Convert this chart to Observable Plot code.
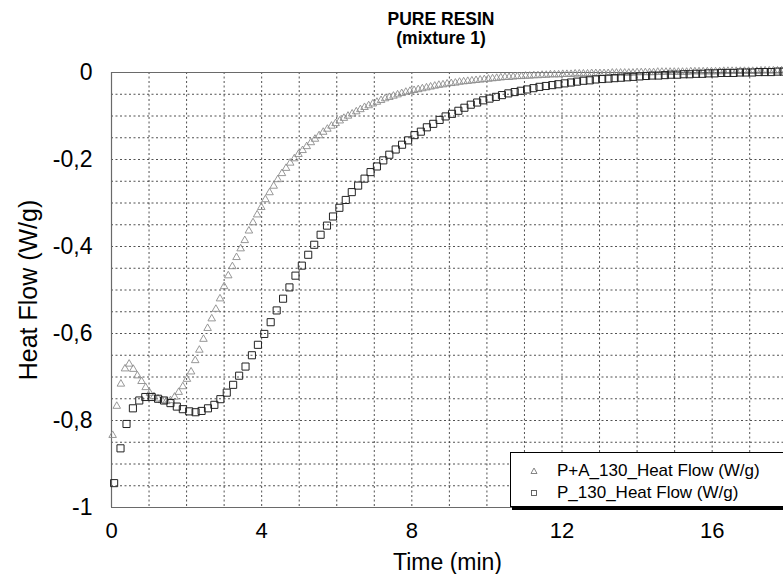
<!DOCTYPE html>
<html>
<head>
<meta charset="utf-8">
<script src="https://cdn.jsdelivr.net/npm/d3@7"></script>
<script src="https://cdn.jsdelivr.net/npm/@observablehq/plot@0.6"></script>
<style>
  body { margin: 0; background: #fff; overflow: hidden; font-family: "Liberation Sans", Arial, sans-serif; }
  #wrap { position: relative; width: 783px; height: 574px; overflow: hidden; background: #fff; }
  #chart { position: absolute; left: 0; top: 0; }
  #title { position: absolute; left: 341px; top: 10px; width: 200px; text-align: center; font-weight: bold; font-size: 17.5px; line-height: 19px; color: #000; z-index: 2; }
  #legend { position: absolute; left: 510px; top: 452px; width: 300px; height: 53px; border: 1px solid #000; background: #fff; box-shadow: 2px 3px 0 #000; z-index: 2; }
  .row { position: absolute; left: 0; height: 22px; width: 300px; font-size: 17px; color: #000; }
  .row svg { position: absolute; left: 17px; top: 5px; }
  .row span { position: absolute; left: 46px; top: 1px; white-space: nowrap; }
</style>
</head>
<body>
<div id="wrap">
  <div id="chart"></div>
  <div id="title">PURE RESIN<br>(mixture 1)</div>
  <div id="legend">
    <div class="row" style="top:7px"><svg width="12" height="12"><path d="M6,3 L9,8.5 L3,8.5 Z" fill="none" stroke="#777" stroke-width="0.9"/></svg><span id="lg1"></span></div>
    <div class="row" style="top:29px"><svg width="12" height="12"><rect x="3.5" y="3.5" width="5" height="5" fill="none" stroke="#555" stroke-width="0.9"/></svg><span id="lg2"></span></div>
  </div>
</div>
<script>
// ---- Data ----
const seriesNames = ["P+A_130_Heat Flow (W/g)", "P_130_Heat Flow (W/g)"];
const chartTitle = ["PURE RESIN", "(mixture 1)"];
const xLabel = "Time (min)";
const yLabel = "Heat Flow (W/g)";
const xTicks = [0, 4, 8, 12, 16];
const yTicks = [-1, -0.8, -0.6, -0.4, -0.2, 0];

// P+A_130 (triangles): time (min)
const tTri = [0.03,0.14,0.25,0.36,0.47,0.58,0.69,0.80,0.91,1.02,1.13,1.24,1.35,1.46,1.57,1.68,1.79,1.90,2.01,2.12,
2.23,2.34,2.45,2.56,2.67,2.78,2.89,3.00,3.11,3.22,3.33,3.44,3.55,3.66,3.77,3.88,3.99,4.10,4.21,4.32,
4.43,4.54,4.65,4.76,4.87,4.98,5.09,5.20,5.31,5.42,5.53,5.64,5.75,5.86,5.97,6.08,6.19,6.30,6.41,6.52,
6.63,6.74,6.85,6.96,7.07,7.18,7.29,7.40,7.51,7.62,7.73,7.84,7.95,8.06,8.17,8.28,8.39,8.50,8.61,8.72,
8.83,8.94,9.05,9.16,9.27,9.38,9.49,9.60,9.71,9.82,9.93,10.04,10.15,10.26,10.37,10.48,10.59,10.70,10.81,10.92,
11.03,11.14,11.25,11.36,11.47,11.58,11.69,11.80,11.91,12.02,12.13,12.24,12.35,12.46,12.57,12.68,12.79,12.90,13.01,13.12,
13.23,13.34,13.45,13.56,13.67,13.78,13.89,14.00,14.11,14.22,14.33,14.44,14.55,14.66,14.77,14.88,14.99,15.10,15.21,15.32,
15.43,15.54,15.65,15.76,15.87,15.98,16.09,16.20,16.31,16.42,16.53,16.64,16.75,16.86,16.97,17.08,17.19,17.30,17.41,17.52,
17.63,17.74,17.85,17.96];
// P+A_130 (triangles): heat flow (W/g)
const hfTri = [-0.834,-0.767,-0.716,-0.681,-0.670,-0.682,-0.697,-0.710,-0.724,-0.737,-0.745,-0.750,-0.754,-0.756,-0.754,-0.746,-0.735,-0.722,-0.705,-0.688,
-0.662,-0.638,-0.613,-0.588,-0.566,-0.544,-0.520,-0.492,-0.467,-0.446,-0.425,-0.405,-0.386,-0.364,-0.345,-0.327,-0.310,-0.292,-0.276,-0.261,
-0.246,-0.232,-0.220,-0.208,-0.198,-0.188,-0.179,-0.170,-0.161,-0.153,-0.145,-0.137,-0.130,-0.123,-0.117,-0.111,-0.105,-0.100,-0.095,-0.090,
-0.085,-0.080,-0.076,-0.072,-0.068,-0.064,-0.060,-0.057,-0.054,-0.051,-0.048,-0.045,-0.043,-0.041,-0.039,-0.037,-0.035,-0.033,-0.031,-0.029,
-0.028,-0.026,-0.025,-0.024,-0.022,-0.021,-0.020,-0.019,-0.018,-0.017,-0.016,-0.015,-0.014,-0.013,-0.012,-0.011,-0.011,-0.010,-0.009,-0.009,
-0.008,-0.008,-0.007,-0.007,-0.006,-0.006,-0.005,-0.005,-0.005,-0.004,-0.004,-0.004,-0.003,-0.003,-0.003,-0.003,-0.002,-0.002,-0.002,-0.002,
-0.002,-0.001,-0.001,-0.001,-0.001,-0.001,-0.001,0.000,0.000,0.000,0.000,0.000,0.001,0.001,0.001,0.001,0.001,0.001,0.001,0.001,
0.002,0.002,0.002,0.002,0.002,0.002,0.002,0.002,0.003,0.003,0.003,0.003,0.003,0.003,0.003,0.003,0.003,0.004,0.004,0.004,
0.004,0.004,0.004,0.004];

// P_130 (squares): time (min)
const tSq = [0.07,0.24,0.40,0.57,0.74,0.90,1.07,1.24,1.40,1.57,1.74,1.90,2.07,2.24,2.40,2.57,2.74,2.90,3.07,3.24,
3.40,3.57,3.74,3.90,4.07,4.24,4.40,4.57,4.74,4.90,5.07,5.24,5.40,5.57,5.74,5.90,6.07,6.24,6.40,6.57,
6.74,6.90,7.07,7.24,7.40,7.57,7.74,7.90,8.07,8.24,8.40,8.57,8.74,8.90,9.07,9.24,9.40,9.57,9.74,9.90,
10.07,10.24,10.40,10.57,10.74,10.90,11.07,11.24,11.40,11.57,11.74,11.90,12.07,12.24,12.40,12.57,12.74,12.90,13.07,13.24,
13.40,13.57,13.74,13.90,14.07,14.24,14.40,14.57,14.74,14.90,15.07,15.24,15.40,15.57,15.74,15.90,16.07,16.24,16.40,16.57,
16.74,16.90,17.07,17.24,17.40,17.57,17.74,17.90];
// P_130 (squares): heat flow (W/g)
const hfSq = [-0.944,-0.864,-0.808,-0.772,-0.754,-0.746,-0.746,-0.750,-0.754,-0.760,-0.768,-0.774,-0.779,-0.781,-0.778,-0.772,-0.764,-0.751,-0.736,-0.718,
-0.697,-0.676,-0.650,-0.626,-0.601,-0.574,-0.547,-0.520,-0.494,-0.467,-0.444,-0.419,-0.396,-0.373,-0.352,-0.331,-0.311,-0.293,-0.275,-0.260,
-0.244,-0.229,-0.216,-0.202,-0.189,-0.177,-0.166,-0.156,-0.144,-0.136,-0.126,-0.118,-0.109,-0.101,-0.095,-0.088,-0.081,-0.074,-0.069,-0.064,
-0.060,-0.056,-0.052,-0.048,-0.045,-0.042,-0.039,-0.036,-0.033,-0.031,-0.029,-0.027,-0.025,-0.023,-0.021,-0.019,-0.018,-0.016,-0.015,-0.014,
-0.013,-0.012,-0.011,-0.010,-0.009,-0.008,-0.007,-0.007,-0.006,-0.005,-0.005,-0.004,-0.004,-0.003,-0.003,-0.002,-0.002,-0.001,-0.001,-0.001,
0.000,0.000,0.000,0.001,0.001,0.001,0.002,0.002];

// ---- Build tables ----
const tri = tTri.map((t, i) => ({t, hf: hfTri[i]}));
const sq = tSq.map((t, i) => ({t, hf: hfSq[i]}));
const gridX = d3.range(1, 18, 1);
const gridY = d3.range(-0.95, -0.001, 0.05);
const fmtY = d => d === 0 ? "0" : String(d).replace(".", ",");

document.getElementById("title").innerHTML = chartTitle.join("<br>");
document.getElementById("lg1").textContent = seriesNames[0];
document.getElementById("lg2").textContent = seriesNames[1];

const chart = Plot.plot({
  width: 783,
  height: 574,
  marginLeft: 111,
  marginRight: 0,
  marginTop: 72,
  marginBottom: 67,
  x: {domain: [0, 17.9], label: null},
  y: {domain: [-1, 0], label: null},
  style: {fontFamily: '"Liberation Sans", Arial, sans-serif', color: "#000", background: "transparent", overflow: "visible"},
  marks: [
    Plot.ruleX(gridX, {stroke: "#333", strokeWidth: 1, strokeDasharray: "2,2.5", strokeOpacity: 0.85}),
    Plot.ruleY(gridY, {stroke: "#333", strokeWidth: 1, strokeDasharray: "2,2.5", strokeOpacity: 0.85}),
    Plot.ruleX([0], {stroke: "#6a6a6a", strokeWidth: 1.2}),
    Plot.ruleY([-1], {stroke: "#6a6a6a", strokeWidth: 1.2}),
    Plot.ruleY([0], {stroke: "#6a6a6a", strokeWidth: 1.2}),
    Plot.dot(tri, {x: "t", y: "hf", symbol: "triangle", r: 2.8, stroke: "#8c8c8c", fill: "none", strokeWidth: 0.9}),
    Plot.dot(sq, {x: "t", y: "hf", symbol: "square", r: 4.0, stroke: "#222", fill: "none", strokeWidth: 1}),
    Plot.axisY({ticks: yTicks, tickSize: 0, tickPadding: 19, fontSize: 23, tickFormat: fmtY, label: null}),
    Plot.axisX({ticks: xTicks, tickSize: 0, tickPadding: 15, fontSize: 22, tickFormat: d => String(d), label: null}),
    Plot.text([xLabel], {frameAnchor: "bottom", dy: 55, lineAnchor: "middle", textAnchor: "middle", fontSize: 23, fill: "#000"}),
    Plot.text([yLabel], {frameAnchor: "left", dx: -83, rotate: -90, textAnchor: "middle", lineAnchor: "middle", fontSize: 25, fill: "#000"})
  ]
});
document.getElementById("chart").appendChild(chart);
</script>
</body>
</html>
